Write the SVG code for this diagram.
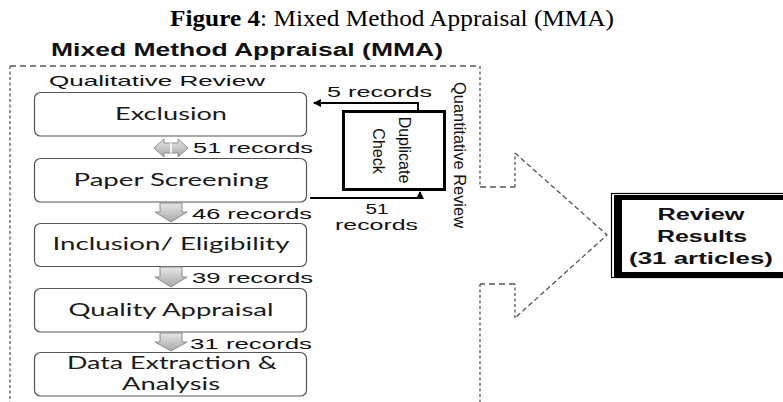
<svg xmlns="http://www.w3.org/2000/svg" width="783" height="402" viewBox="0 0 783 402">
<defs>
<style>
.ar{font-family:"Liberation Sans",Arial,sans-serif;fill:#111}
.cal{font-family:Lato,"Open Sans",sans-serif;font-size:18px;fill:#1a1a1a;text-anchor:middle}
.box{fill:#fff;stroke:#555;stroke-width:1.2}
.dh{fill:none;stroke:#555;stroke-width:1.3;stroke-dasharray:6 4}
.dv{fill:none;stroke:#555;stroke-width:1.3;stroke-dasharray:3 2.5}
.dd{fill:none;stroke:#555;stroke-width:1.3;stroke-dasharray:5 3}
.conn{fill:none;stroke:#000;stroke-width:2}
.blk{fill:url(#g);stroke:#8c8c8c;stroke-width:1}
</style>
<linearGradient id="g" x1="0" y1="0" x2="0" y2="1">
<stop offset="0" stop-color="#e6e6e6"/>
<stop offset="1" stop-color="#a8a8a8"/>
</linearGradient>
<marker id="ah" markerWidth="8" markerHeight="8" refX="7" refY="4" orient="auto" markerUnits="userSpaceOnUse">
<path d="M0,0 L8,4 L0,8 z" fill="#000"/>
</marker>
</defs>
<rect width="783" height="402" fill="#fff"/>

<text x="392" y="26" font-family="'Liberation Serif','Times New Roman',serif" font-size="23" text-anchor="middle" textLength="444" lengthAdjust="spacingAndGlyphs"><tspan font-weight="bold">Figure 4</tspan>: Mixed Method Appraisal (MMA)</text>
<text class="ar" x="51" y="56" font-size="17.5" font-weight="bold" textLength="392" lengthAdjust="spacingAndGlyphs">Mixed Method Appraisal (MMA)</text>

<g id="frame">
<path class="dh" d="M10,66 H480"/>
<path class="dv" d="M10,66 V402"/>
<path class="dv" d="M480,66 V187"/>
<path class="dh" d="M480,187 H515"/>
<path class="dv" d="M515,187 V153"/>
<path class="dd" d="M515,153 L607,235 L515,318"/>
<path class="dv" d="M515,318 V284"/>
<path class="dh" d="M515,284 H480"/>
<path class="dv" d="M480,284 V402"/>
</g>

<text class="ar" x="49" y="86" font-size="15" textLength="216" lengthAdjust="spacingAndGlyphs">Qualitative  Review</text>

<g id="exclusion">
<rect class="box" x="34.5" y="92.5" width="272" height="43.5" rx="6"/>
<text class="cal" x="171" y="120" textLength="112" lengthAdjust="spacingAndGlyphs">Exclusion</text>
</g>
<g id="paper-screening">
<rect class="box" x="34.5" y="158.5" width="272" height="43.5" rx="6"/>
<text class="cal" x="171" y="186" textLength="195" lengthAdjust="spacingAndGlyphs">Paper Screening</text>
</g>
<g id="inclusion">
<rect class="box" x="34.5" y="223.5" width="272" height="43" rx="6"/>
<text class="cal" x="171" y="250" textLength="237" lengthAdjust="spacingAndGlyphs">Inclusion/ Eligibility</text>
</g>
<g id="quality-appraisal">
<rect class="box" x="34.5" y="288.5" width="272" height="43.5" rx="6"/>
<text class="cal" x="171" y="316" textLength="205" lengthAdjust="spacingAndGlyphs">Quality Appraisal</text>
</g>
<g id="data-extraction">
<rect class="box" x="34.5" y="352.5" width="272" height="43.5" rx="6"/>
<text class="cal" x="172" y="369" font-size="16" textLength="210" lengthAdjust="spacingAndGlyphs">Data Extraction &amp;</text>
<text class="cal" x="171" y="389.5" font-size="16" textLength="98" lengthAdjust="spacingAndGlyphs">Analysis</text>
</g>

<g id="duplicate-check">
<rect x="343.5" y="111.5" width="101" height="78" fill="#fff" stroke="#000" stroke-width="3"/>
<text class="ar" font-size="16" text-anchor="middle" transform="translate(399,150) rotate(90)">Duplicate</text>
<text class="ar" font-size="16" text-anchor="middle" transform="translate(373,151) rotate(90)">Check</text>
</g>

<text class="ar" font-size="17" transform="translate(454,82) rotate(90)" textLength="146" lengthAdjust="spacingAndGlyphs">Quantitative Review</text>

<g id="review-results">
<rect x="611.5" y="193.5" width="190" height="84" fill="#fff" stroke="#000" stroke-width="1.2"/>
<path d="M614,195 H800 V277 H614 z M622,200 V272 H800 V200 z" fill="#000" fill-rule="evenodd"/>
<text class="ar" x="701" y="220" font-size="16" font-weight="bold" text-anchor="middle" textLength="87" lengthAdjust="spacingAndGlyphs">Review</text>
<text class="ar" x="702" y="242" font-size="16" font-weight="bold" text-anchor="middle" textLength="90" lengthAdjust="spacingAndGlyphs">Results</text>
<text class="ar" x="701" y="264" font-size="16" font-weight="bold" text-anchor="middle" textLength="144" lengthAdjust="spacingAndGlyphs">(31 articles)</text>
</g>

<g id="connectors">
<path class="conn" d="M418,110 V103 H314" marker-end="url(#ah)"/>
<path class="conn" d="M310,198 H420 V192" marker-end="url(#ah)"/>
<path class="blk" d="M154,148 L164,139 V143 H178 V139 L188,148 L178,157 V153 H164 V157 z"/>
<line x1="171" y1="143" x2="171" y2="153" stroke="#fff" stroke-width="1.5"/>
<path class="blk" d="M160,203 H182 V212 H187 L171,222 L155,212 H160 z"/>
<path class="blk" d="M160,267 H182 V277 H187 L171,287 L155,277 H160 z"/>
<path class="blk" d="M160,333 H182 V342 H187 L171,351 L155,342 H160 z"/>
</g>

<text class="ar" x="327" y="97" font-size="15" textLength="105" lengthAdjust="spacingAndGlyphs">5 records</text>
<text class="ar" x="377" y="214" font-size="15" text-anchor="middle" textLength="23" lengthAdjust="spacingAndGlyphs">51</text>
<text class="ar" x="376.5" y="230" font-size="15" text-anchor="middle" textLength="83" lengthAdjust="spacingAndGlyphs">records</text>
<text class="ar" x="193" y="153" font-size="15.5" textLength="120" lengthAdjust="spacingAndGlyphs">51 records</text>
<text class="ar" x="192" y="219" font-size="15.5" textLength="120" lengthAdjust="spacingAndGlyphs">46 records</text>
<text class="ar" x="192" y="283" font-size="15.5" textLength="121" lengthAdjust="spacingAndGlyphs">39 records</text>
<text class="ar" x="190" y="349" font-size="15.5" textLength="122" lengthAdjust="spacingAndGlyphs">31 records</text>
</svg>
